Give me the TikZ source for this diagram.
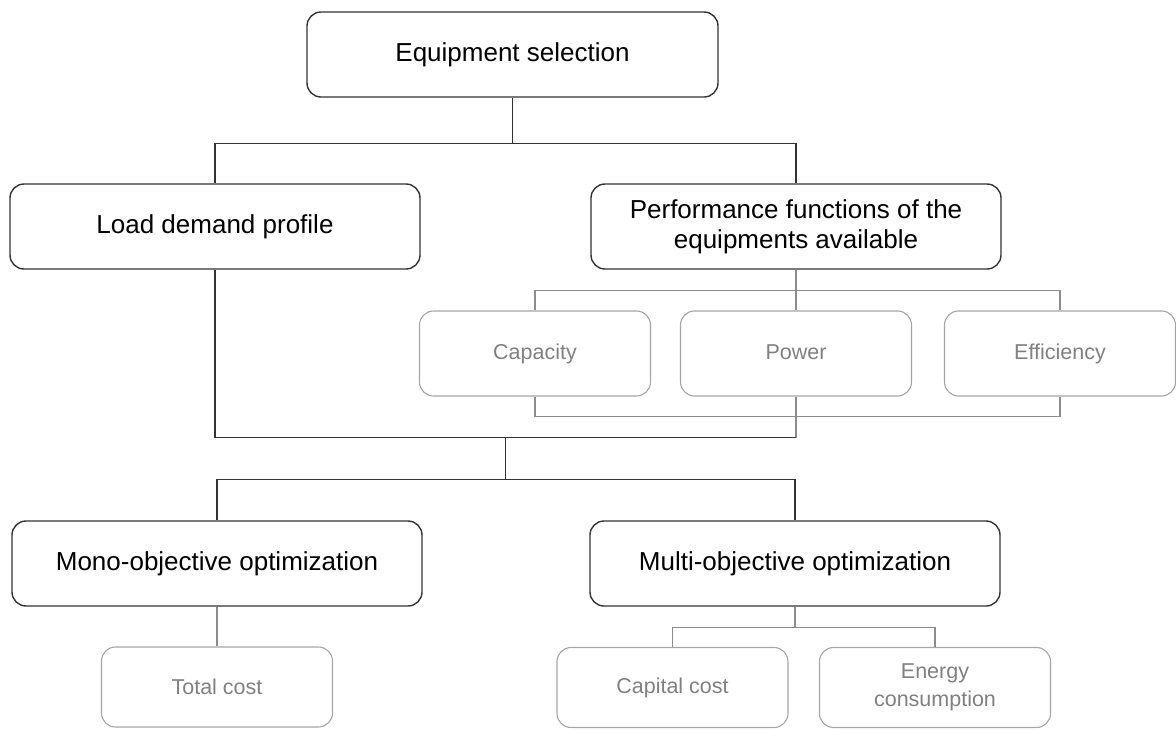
\documentclass[tikz,border=0pt]{standalone}
\usepackage{fontspec}
\setmainfont{Liberation Sans}
\usetikzlibrary{calc}
\begin{document}
\begin{tikzpicture}[x=1pt,y=-1pt,
  mainbox/.style={draw=black!80,line width=1.4pt,rounded corners=14pt,minimum width=410pt,minimum height=85pt,inner sep=0pt,align=center,font=\fontsize{26}{30}\selectfont},
  leafbox/.style={draw=black!35,line width=1.1pt,rounded corners=14pt,minimum width=231pt,minimum height=85pt,inner sep=0pt,align=center,text=black!50,font=\fontsize{21.5}{28}\selectfont},
  link/.style={black!80,line width=1.4pt},
  sublink/.style={black!45,line width=1.1pt}]
\useasboundingbox (0,0) rectangle (1176,729);

\node[mainbox,minimum width=411pt] (sel) at (512.5,54.5) {Equipment selection};
\node[mainbox] (load) at (215,226.5) {Load demand profile};
\node[mainbox] (perf) at (796,226.5) {Performance functions of the\\equipments available};

\node[leafbox] (cap) at (535,353.5) {Capacity};
\node[leafbox,text depth=2.5pt] (pow) at (796,353.5) {Power};
\node[leafbox] (eff) at (1060,353.5) {Efficiency};

\node[mainbox] (mono) at (217,563.5) {Mono-objective optimization};
\node[mainbox] (multi) at (795,563.5) {Multi-objective optimization};

\node[leafbox,minimum height=80pt] (tot) at (217,687) {Total cost};
\node[leafbox,minimum height=80pt] (capc) at (672.5,687.5) {Capital cost};
\node[leafbox,minimum height=80pt] (ener) at (935,687.5) {Energy\\consumption};

% upper level
\draw[link] (sel.south) -- ++(0,46) coordinate (j1);
\draw[link] (load.north) |- (j1) -| (perf.north);

% performance functions
\coordinate (ptop) at ($(perf.south)!0.5!(pow.north)$);
\coordinate (pbot) at ($(pow.south)+(0,20)$);
\draw[sublink] (perf.south) -- (pow.north);
\draw[sublink] (cap.north) |- (ptop) -| (eff.north);
\draw[sublink] (cap.south) |- (pbot) -| (eff.south);
\draw[sublink] (pow.south) -- ++(0,41) coordinate (lbar);
\draw[link] (load.south) |- (lbar);

% optimization
\coordinate (jm) at ($(load.south |- lbar)!0.5!(lbar)$);
\draw[link] (jm) -- ++(0,42) coordinate (j2);
\draw[link] (mono.north) |- (j2) -| (multi.north);

\draw[sublink] (mono.south) -- (tot.north);
\draw[sublink] (multi.south) -- ++(0,21) coordinate (j3);
\draw[sublink] (capc.north) |- (j3) -| (ener.north);
\end{tikzpicture}
\end{document}
